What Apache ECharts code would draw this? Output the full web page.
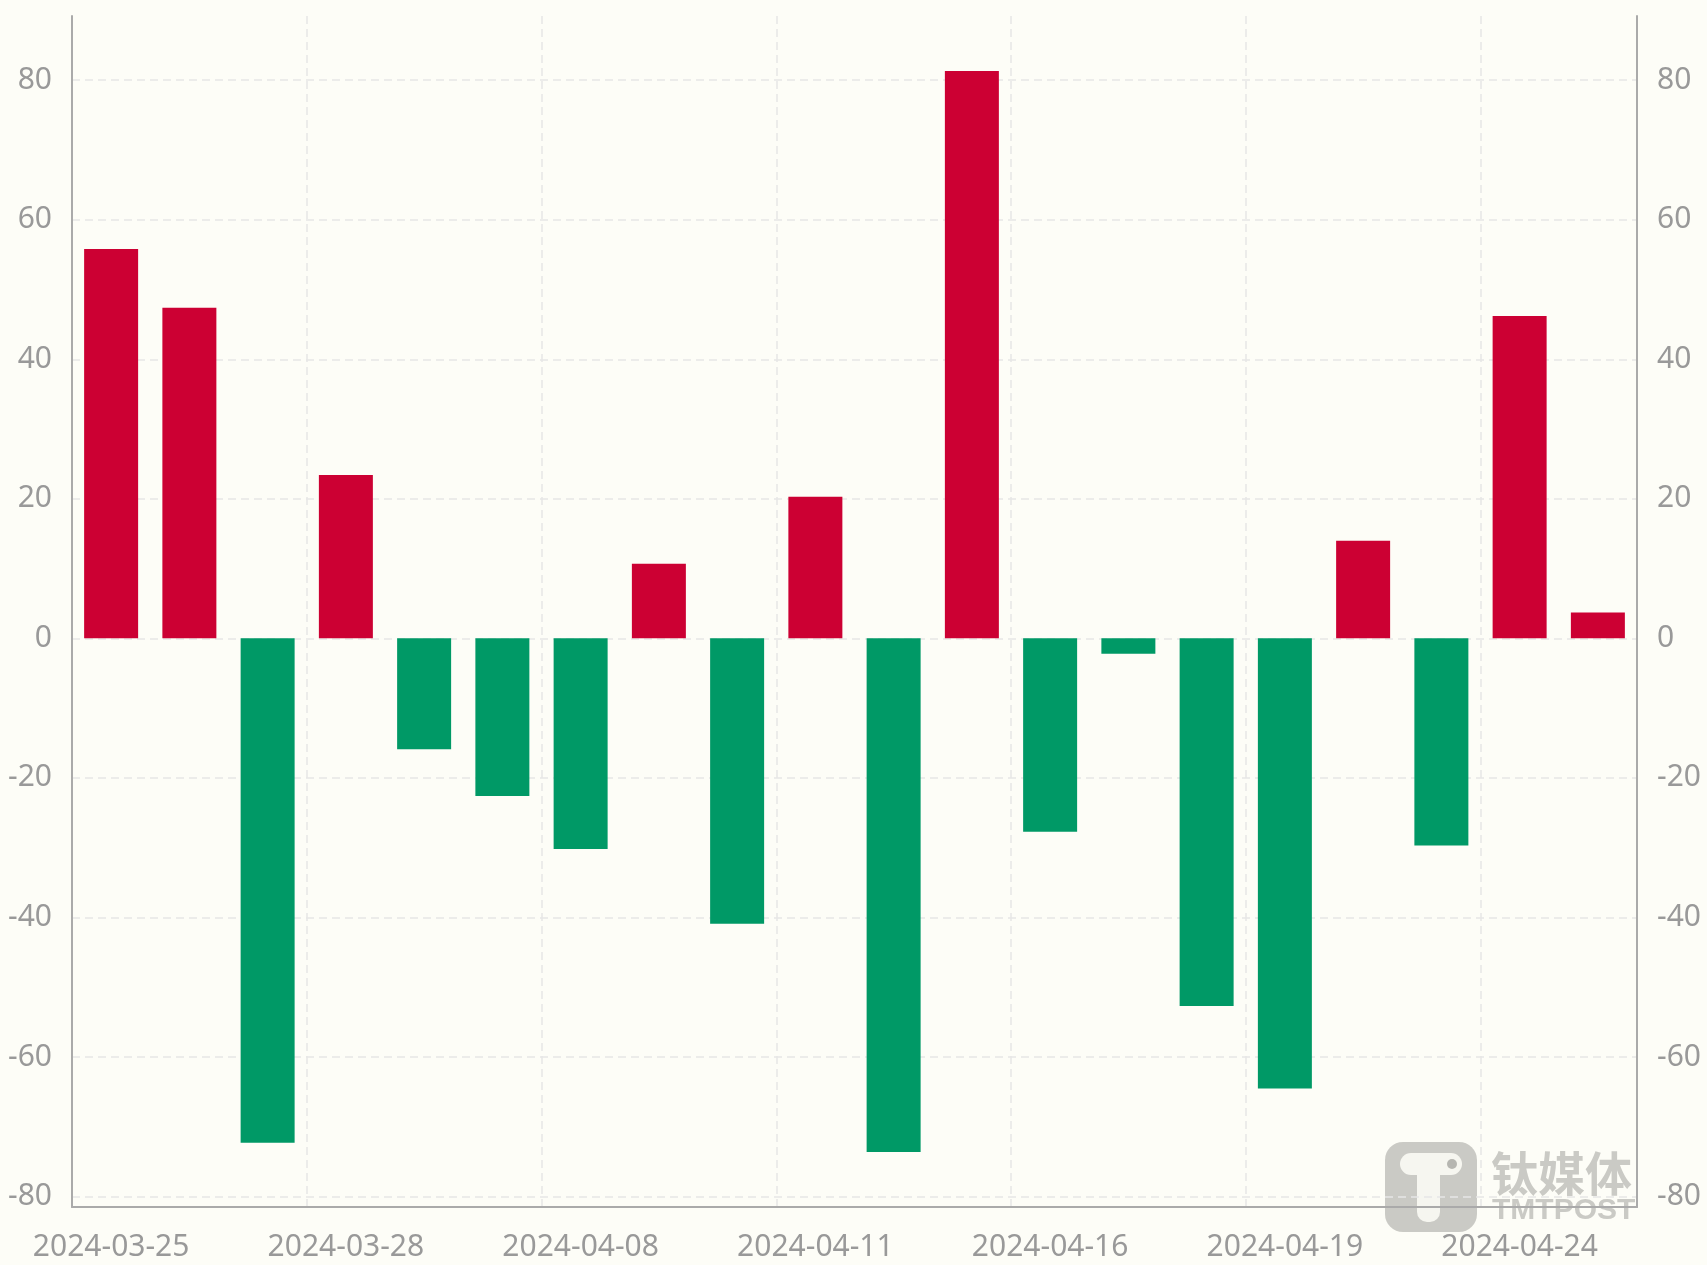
<!DOCTYPE html>
<html>
<head>
<meta charset="utf-8">
<script src="https://cdn.jsdelivr.net/npm/echarts@6/dist/echarts.min.js"></script>
<style>
html,body{margin:0;padding:0;background:#fdfdf7;}
#chart{width:1707px;height:1265px;}
</style>
</head>
<body>
<div id="chart"></div>
<script>
const categories = ['2024-03-25','2024-03-26','2024-03-27','2024-03-28','2024-04-02','2024-04-03',
  '2024-04-08','2024-04-09','2024-04-10','2024-04-11','2024-04-12','2024-04-15',
  '2024-04-16','2024-04-17','2024-04-18','2024-04-19','2024-04-22','2024-04-23',
  '2024-04-24','2024-04-25'];
const values = [55.8, 47.4, -72.3, 23.4, -15.9, -22.6, -30.2, 10.7, -40.9, 20.3,
  -73.6, 81.3, -27.7, -2.2, -52.7, -64.5, 14.0, -29.7, 46.2, 3.7];
const yTicks = [-80, -60, -40, -20, 0, 20, 40, 60, 80];

const upColor = '#cc0033';
const downColor = '#009966';
const labelStyle = {color:'#999999', fontSize:30, fontFamily:'"Noto Sans", "Open Sans", sans-serif'};
const axisLineStyle = {color:'#aaaaaa', width:2};
const gridLineStyle = {color:'#e6e6e6', width:1.5, type:[8,5]};

const chart = echarts.init(document.getElementById('chart'));
const yMin = -81.5, yMax = 89.2;
function yAxisDef(pos){
  return {
    type:'value', position:pos, min:yMin, max:yMax, splitNumber:8, minInterval:20, maxInterval:20,
    axisLine:{show:true, lineStyle:axisLineStyle},
    axisTick:{show:false},
    axisLabel:Object.assign({margin:20, showMinLabel:false, showMaxLabel:false, padding:[0,0,4,0],
      formatter:v => yTicks.includes(v) ? String(v) : ''}, labelStyle),
    splitLine:{show:false}
  };
}
chart.setOption({
  backgroundColor:'#fdfdf7',
  animation:false,
  grid:{left:72, right:70, top:16, bottom:58, containLabel:false},
  xAxis:{
    type:'category', data:categories, boundaryGap:true,
    axisLine:{show:true, onZero:false, lineStyle:axisLineStyle},
    axisTick:{show:false},
    axisLabel:Object.assign({interval:2, margin:25}, labelStyle),
    splitLine:{show:true, interval:2, lineStyle:gridLineStyle}
  },
  yAxis:[yAxisDef('left'), yAxisDef('right')],
  series:[{
    type:'line', data:[], z:0, yAxisIndex:0, silent:true,
    markLine:{silent:true, z:0, zlevel:0, symbol:['none','none'], label:{show:false},
      lineStyle:gridLineStyle, emphasis:{disabled:true},
      data:yTicks.map(v => ({yAxis:v}))}
  },{
    type:'bar', data:values, barWidth:'69%', yAxisIndex:0, z:3,
    itemStyle:{color: p => p.value >= 0 ? upColor : downColor}
  }],
  graphic:[{
    type:'group', left:1385, top:1142, z:100,
    children:[
      {type:'rect', shape:{x:0, y:0, width:92, height:90, r:18}, style:{fill:'rgba(140,140,135,0.45)'}},
      {type:'rect', shape:{x:15, y:11, width:62, height:22, r:[11,11,11,11]}, style:{fill:'#f6f6f0'}},
      {type:'rect', shape:{x:32, y:11, width:23, height:69, r:[0,0,10,10]}, style:{fill:'#f6f6f0'}},
      {type:'circle', shape:{cx:67, cy:22, r:5}, style:{fill:'rgba(140,140,135,0.6)'}},
      {type:'text', x:106, y:8, style:{text:'钛媒体', fontSize:47, fontWeight:'bold',
        fontFamily:'"Noto Sans CJK SC", sans-serif', fill:'rgba(140,140,135,0.45)'}},
      {type:'text', x:107, y:54, style:{text:'TMTPOST', fontSize:30, fontWeight:'bold',
        fontFamily:'"Liberation Sans", Arial, sans-serif', fill:'rgba(140,140,135,0.45)'}}
    ]
  }]
});
</script>
</body>
</html>
